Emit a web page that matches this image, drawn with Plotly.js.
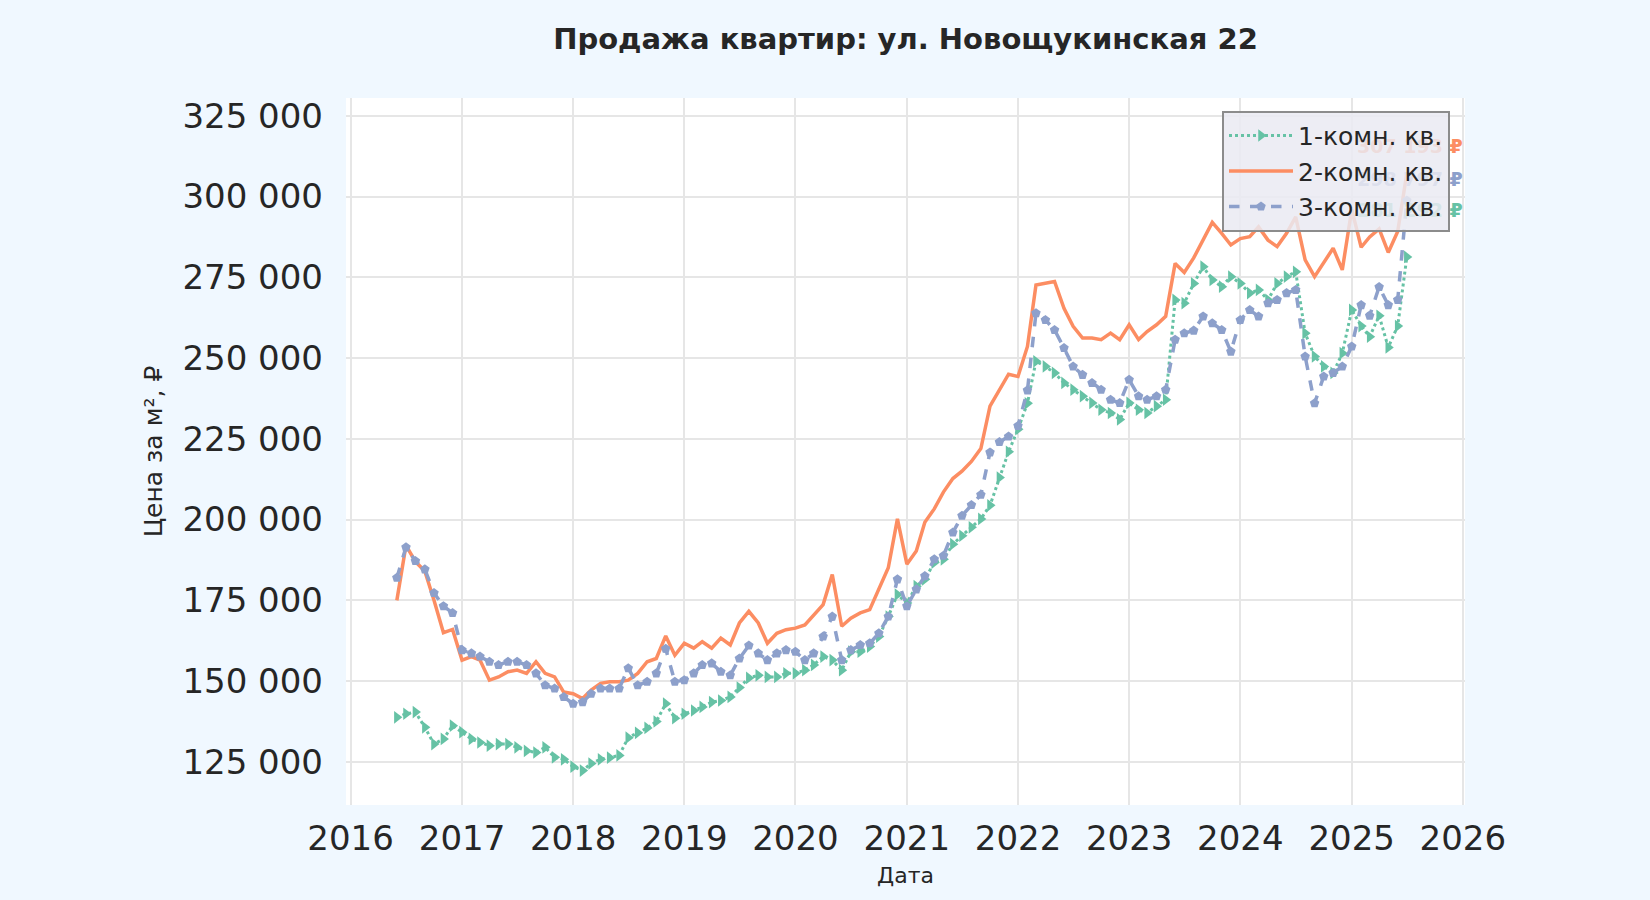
<!DOCTYPE html>
<html><head><meta charset="utf-8">
<script src="https://cdn.plot.ly/plotly-3.0.1.min.js"></script>
<style>html,body{margin:0;padding:0;background:#f0f8ff}</style>
</head><body><div id="chart" style="width:1650px;height:900px"></div>
<script>
// monthly observation dates: Jun 2016 .. Jul 2025
const startYear = 2016, startMonth = 6, nMonths = 110;
const dates = [];
for (let i = 0; i < nMonths; i++) {
  const m = startMonth - 1 + i;
  const y = startYear + Math.floor(m / 12);
  const mm = (m % 12) + 1;
  dates.push(y + '-' + String(mm).padStart(2, '0') + '-01');
}

const seriesNames = ['1-комн. кв.', '2-комн. кв.', '3-комн. кв.'];

// 1-комн. кв.
const room1 = [
  138800,139900,140400,135700,130500,132100,136200,
  134200,132100,131000,130000,130500,130500,129500,128400,127900,129500,126400,125800,
  123500,122300,124500,125800,126300,127000,132500,134000,135500,137500,143000,138500,
  139900,140900,142000,143500,144000,145100,148000,151000,151800,151300,151300,152400,
  152400,153400,155000,157600,156500,153400,159100,159100,160700,163800,170000,176800,
  174200,179400,181500,186700,187700,192400,195000,197600,200200,204400,213000,221000,
  228000,236000,249000,247400,245400,242300,240200,238200,236100,234000,233000,231000,
  236100,234000,233000,235100,237100,268000,267000,273100,278300,274200,272100,275200,
  273100,270100,271100,268000,273100,275200,276700,257700,250500,247400,245400,251500,
  264900,259900,256600,263100,253300,259900,281292
];
// 2-комн. кв.
const room2 = [
  175000,192000,187000,184000,175000,165000,166000,
  156500,157600,156500,150300,151300,152900,153400,152400,156000,152400,151300,146600,
  146100,144600,147200,149300,149800,149800,150300,152400,156000,157000,164000,158000,
  161700,160200,162200,160200,163300,161200,168000,171600,168000,161700,164800,165900,
  166400,167400,170600,173700,183000,167000,169500,171100,172100,178400,185100,200200,
  186200,190300,199200,203300,208500,212700,215000,218000,222000,235100,240200,245000,
  244300,253600,272600,273100,273700,265400,259800,256200,256200,255700,257700,255700,
  260300,255700,258200,260300,262900,279300,276500,281000,286500,292000,288600,285000,
  287000,287600,290600,286500,284500,288600,293700,280400,275200,279300,284000,277300,
  296000,284300,287500,290000,282700,289200,307193
];
// 3-комн. кв.
const room3 = [
  182000,191400,187200,184600,177300,173200,171100,
  159600,158600,157600,156000,155000,156000,156000,155000,152400,148700,147700,145100,
  143000,143500,146100,147700,147700,147700,154000,148700,149800,152400,160000,149800,
  150300,152400,155000,155500,152900,151800,157000,161000,158600,156500,158600,159600,
  159100,156500,158600,163800,170000,156500,159600,161200,161700,164800,170000,181500,
  173200,178400,182500,187700,188800,196000,201200,204500,207700,220800,224000,225700,
  229000,240000,263900,261800,258700,253100,247400,244800,242300,240200,237100,236100,
  243300,238200,237100,238200,240200,255700,257700,258500,262900,260800,258700,252000,
  261800,264900,262900,267000,268000,270100,271100,250500,236000,244300,245400,247400,
  253600,266400,263100,272000,266400,268000,298797
];

const yTicks = [125000,150000,175000,200000,225000,250000,275000,300000,325000];
const xTickYears = [2016,2017,2018,2019,2020,2021,2022,2023,2024,2025,2026];

const fmt = v => String(Math.round(v)).replace(/\B(?=(\d{3})+(?!\d))/g, ' ');
const colors = ['#66c2a5', '#fc8d62', '#8da0cb'];

const traces = [
  {x: dates, y: room1, name: seriesNames[0], type: 'scatter', mode: 'lines+markers',
   line: {color: colors[0], width: 3, dash: 'dot'},
   marker: {symbol: 'triangle-right', size: 11, color: colors[0]}},
  {x: dates, y: room2, name: seriesNames[1], type: 'scatter', mode: 'lines',
   line: {color: colors[1], width: 3.5}},
  {x: dates, y: room3, name: seriesNames[2], type: 'scatter', mode: 'lines+markers',
   line: {color: colors[2], width: 3.5, dash: 'dash'},
   marker: {symbol: 'pentagon', size: 10, color: colors[2]}}
];

const lastVals = [room2[room2.length-1], room3[room3.length-1], room1[room1.length-1]];
const lastCols = [colors[1], colors[2], colors[0]];
const annY = [0.932, 0.885, 0.841];
const annotations = lastVals.map((v, i) => ({
  xref: 'paper', yref: 'paper', x: 1.0, y: annY[i], xanchor: 'right', yanchor: 'middle',
  text: '<b>' + fmt(v) + ' ₽</b>', showarrow: false,
  font: {family: 'DejaVu Sans', size: 19, color: lastCols[i]}
}));

const layout = {
  width: 1650, height: 900,
  paper_bgcolor: '#f0f8ff', plot_bgcolor: '#ffffff',
  font: {family: 'DejaVu Sans', color: '#262626'},
  margin: {l: 346, r: 185, t: 98, b: 95},
  title: {text: '<b>Продажа квартир: ул. Новощукинская 22</b>', font: {size: 29, color: '#262626'},
          x: 0.5, xref: 'paper', xanchor: 'center', y: 1 - 39/900, yref: 'container', yanchor: 'middle'},
  xaxis: {
    type: 'date', range: ['2015-12-17', '2026-01-08'],
    tickvals: xTickYears.map(y => y + '-01-01'), ticktext: xTickYears.map(String),
    showgrid: true, gridcolor: '#e6e6e6', gridwidth: 2, zeroline: false, showline: false,
    ticks: '', ticklabelstandoff: 10, tickfont: {size: 34, color: '#262626'},
    title: {text: 'Дата', font: {size: 22, color: '#262626'}, standoff: 10}
  },
  yaxis: {
    range: [111650, 330500],
    tickvals: yTicks, ticktext: yTicks.map(fmt),
    showgrid: true, gridcolor: '#e6e6e6', gridwidth: 2, zeroline: false, showline: false,
    ticks: '', ticklabelstandoff: 22, tickfont: {size: 34, color: '#262626'},
    title: {text: 'Цена за м², ₽', font: {size: 25, color: '#262626'}, standoff: 12}
  },
  legend: {
    x: 0.9866, y: 0.982, xanchor: 'right', yanchor: 'top',
    bgcolor: 'rgba(234,234,242,0.85)', bordercolor: '#8c8c8c', borderwidth: 2,
    font: {size: 25, color: '#262626'}, itemwidth: 64, tracegroupgap: 0
  },
  annotations: annotations,
  showlegend: true
};

Plotly.newPlot('chart', traces, layout, {displayModeBar: false, staticPlot: true}).then(gd => {
  const leg = gd.querySelector('.infolayer .legend');
  if (leg && leg.parentNode) leg.parentNode.appendChild(leg);
});
</script>
</body></html>
